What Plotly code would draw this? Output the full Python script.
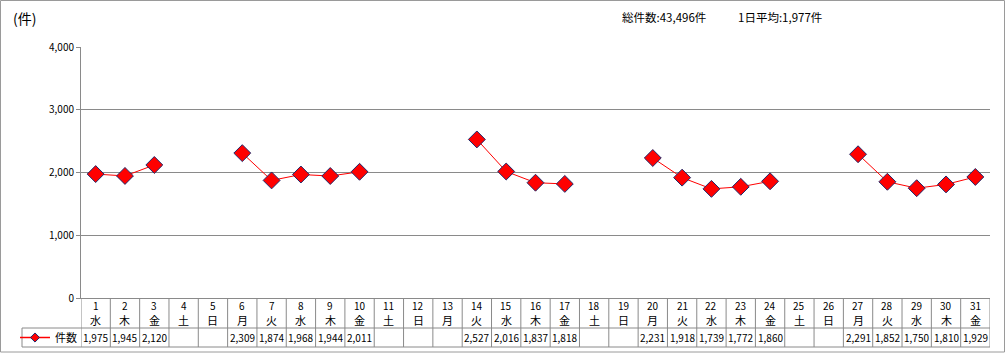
import plotly.graph_objects as go

days = list(range(1, 32))
weekdays = ["水", "木", "金", "土", "日", "月", "火", "水", "木", "金", "土", "日", "月", "火", "水",
            "木", "金", "土", "日", "月", "火", "水", "木", "金", "土", "日", "月", "火", "水", "木", "金"]
counts = [1975, 1945, 2120, None, None, 2309, 1874, 1968, 1944, 2011, None, None, None, 2527, 2016,
          1837, 1818, None, None, 2231, 1918, 1739, 1772, 1860, None, None, 2291, 1852, 1750, 1810, 1929]
series_name = "件数"
unit_label = "(件)"
total_label = "総件数:43,496件"
avg_label = "1日平均:1,977件"
y_ticks = [0, 1000, 2000, 3000, 4000]
y_ticktext = ["0", "1,000", "2,000", "3,000", "4,000"]

FONT = "Noto Sans CJK JP"
W, H = 1006, 355
L, R, T, B = 81, 16, 47, 57
pw = W - L - R
ph = H - T - B

def px_x(x):
    return (x - L) / pw

def px_y(y):
    return (H - B - y) / ph

fig = go.Figure()
fig.add_trace(go.Scatter(
    x=days, y=counts, mode="lines+markers", connectgaps=False, showlegend=False,
    line=dict(color="#FF0000", width=1),
    marker=dict(symbol="diamond", size=13, color="#FF0000", line=dict(color="#1F2A6B", width=1)),
    name=series_name))
# legend-only trace
fig.add_trace(go.Scatter(
    x=[None], y=[None], mode="lines+markers", showlegend=True, name=series_name,
    line=dict(color="#FF0000", width=1.5),
    marker=dict(symbol="diamond", size=7, color="#FF0000", line=dict(color="#1F2A6B", width=1))))

shapes = []
grid_col = "#8A8A8A"
ybot = px_y(347)
ytop_row = px_y(328)
xleft_cell = px_x(22)
# column separators
for k in range(0, 32):
    shapes.append(dict(type="line", xref="x", yref="paper", x0=k + 0.5, x1=k + 0.5,
                       y0=ybot, y1=0, line=dict(color=grid_col, width=1)))
# data row lines
shapes.append(dict(type="line", xref="paper", yref="paper", x0=xleft_cell, x1=1,
                   y0=ytop_row, y1=ytop_row, line=dict(color=grid_col, width=1)))
shapes.append(dict(type="line", xref="paper", yref="paper", x0=xleft_cell, x1=1,
                   y0=ybot, y1=ybot, line=dict(color=grid_col, width=1)))
shapes.append(dict(type="line", xref="paper", yref="paper", x0=xleft_cell, x1=xleft_cell,
                   y0=ybot, y1=ytop_row, line=dict(color=grid_col, width=1)))
# outer border
shapes.append(dict(type="rect", xref="paper", yref="paper", x0=px_x(0.5), x1=px_x(1004.5),
                   y0=px_y(352), y1=px_y(0.5), line=dict(color="#9A9A9A", width=1)))

annotations = []
for d, wd, c in zip(days, weekdays, counts):
    annotations.append(dict(x=d, y=px_y(305), xref="x", yref="paper", text=str(d), showarrow=False,
                            font=dict(family=FONT, size=10, color="black"), yanchor="middle"))
    annotations.append(dict(x=d, y=px_y(320), xref="x", yref="paper", text=wd, showarrow=False,
                            font=dict(family=FONT, size=11, color="black"), yanchor="middle"))
    if c is not None:
        annotations.append(dict(x=d, y=px_y(337.5), xref="x", yref="paper", text=f"{c:,}", showarrow=False,
                                font=dict(family=FONT, size=10, color="black"), yanchor="middle"))
annotations.append(dict(x=px_x(11), y=px_y(18), xref="paper", yref="paper", text=unit_label,
                        showarrow=False, xanchor="left", yanchor="middle",
                        font=dict(family=FONT, size=14, color="black")))
annotations.append(dict(x=px_x(620), y=px_y(17), xref="paper", yref="paper", text=total_label,
                        showarrow=False, xanchor="left", yanchor="middle",
                        font=dict(family=FONT, size=11.5, color="black")))
annotations.append(dict(x=px_x(736), y=px_y(17), xref="paper", yref="paper", text=avg_label,
                        showarrow=False, xanchor="left", yanchor="middle",
                        font=dict(family=FONT, size=11.5, color="black")))

fig.update_layout(
    width=W, height=H, margin=dict(l=L, r=R, t=T, b=B, pad=0, autoexpand=False),
    paper_bgcolor="white", plot_bgcolor="white",
    font=dict(family=FONT, size=10, color="black"),
    shapes=shapes, annotations=annotations,
    legend=dict(x=px_x(15), y=px_y(337.5), xanchor="left", yanchor="middle",
                bgcolor="rgba(0,0,0,0)", font=dict(family=FONT, size=11, color="black"),
                itemwidth=30, tracegroupgap=0),
    xaxis=dict(range=[0.5, 31.5], showticklabels=False, showgrid=False, zeroline=False,
               showline=True, linecolor=grid_col, linewidth=1, ticks="", fixedrange=True,
               automargin=False),
    yaxis=dict(range=[0, 4000], tickvals=y_ticks, ticktext=y_ticktext, showgrid=True,
               gridcolor=grid_col, gridwidth=1, zeroline=False, showline=True,
               linecolor=grid_col, linewidth=1, ticks="outside", ticklen=4, tickcolor=grid_col,
               tickfont=dict(family=FONT, size=10, color="black"), fixedrange=True,
               automargin=False),
)

fig.write_html("out.html")
